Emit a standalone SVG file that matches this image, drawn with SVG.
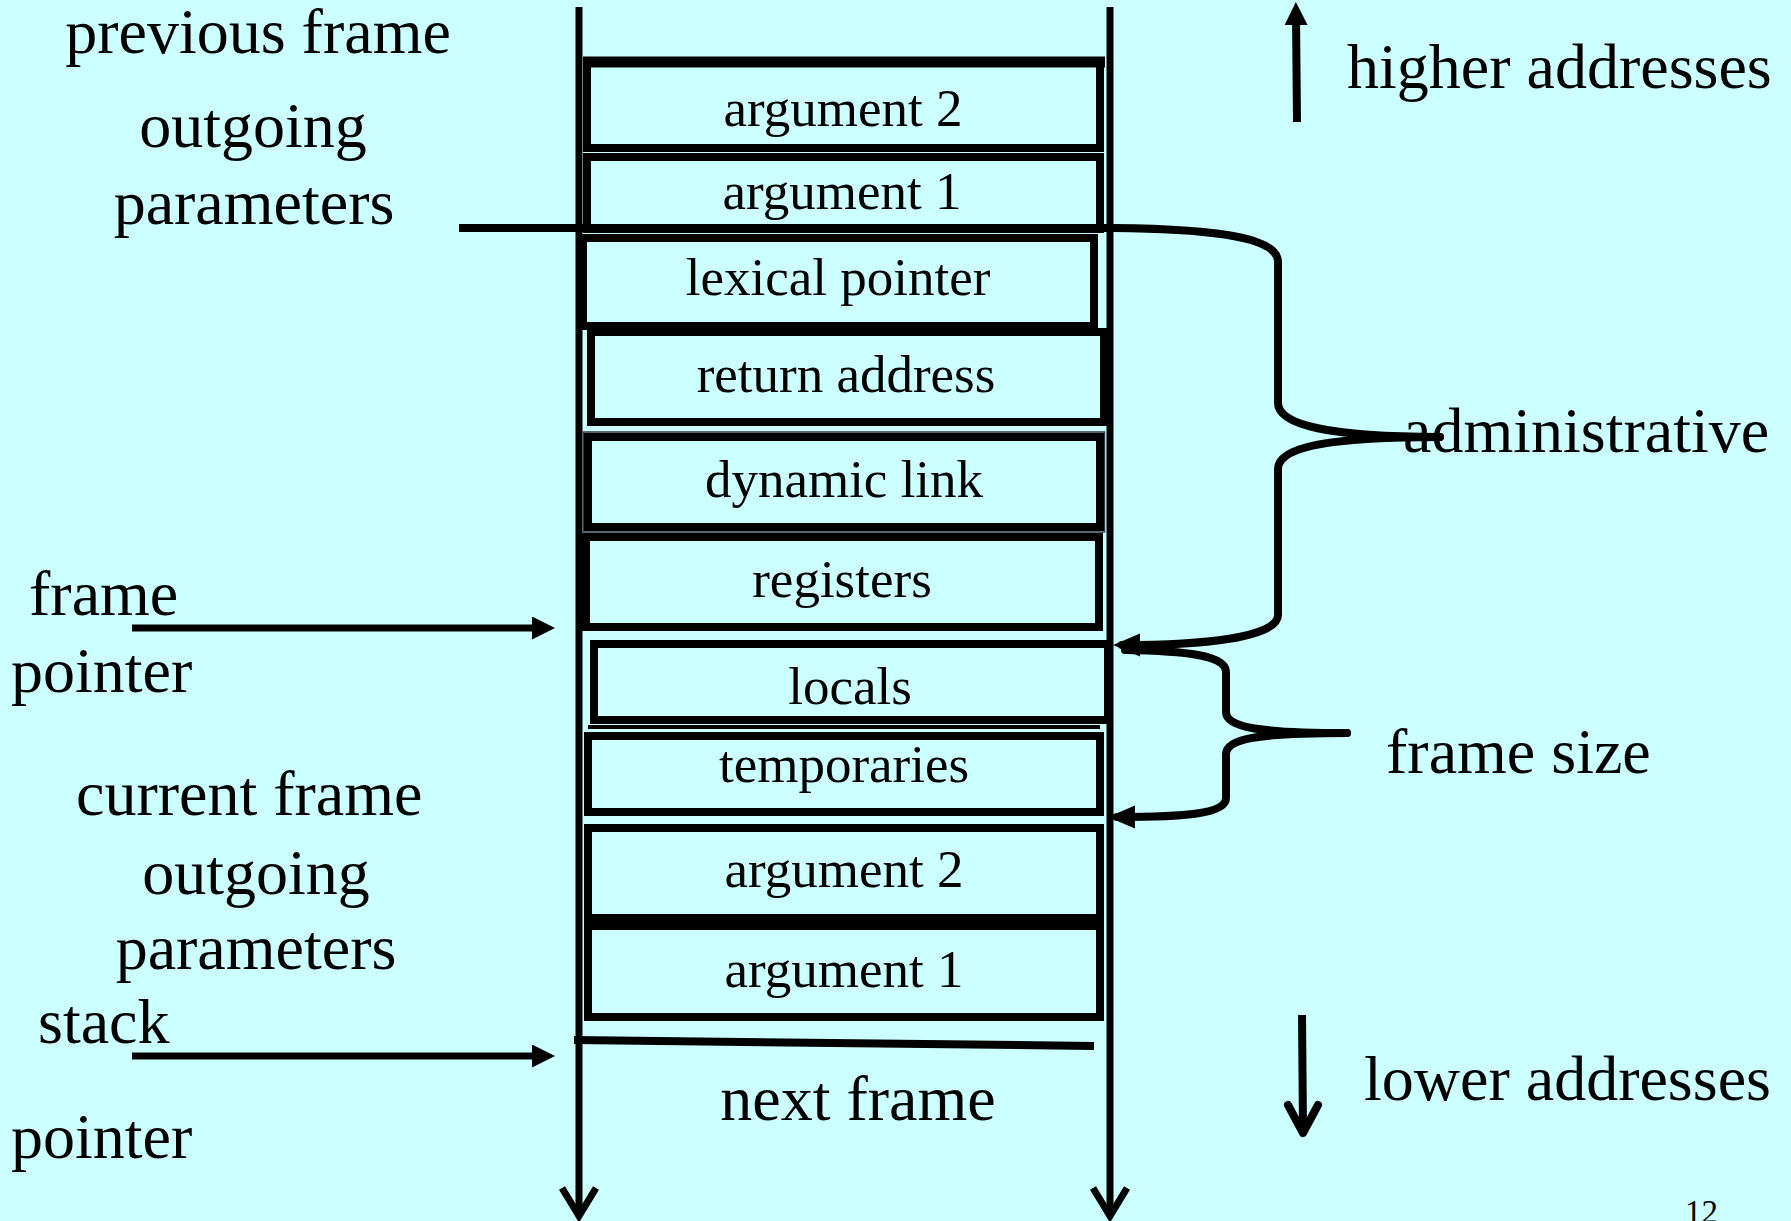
<svg xmlns="http://www.w3.org/2000/svg" width="1791" height="1221" viewBox="0 0 1791 1221">
<style>
  .big { font-family: "Liberation Serif", "Times New Roman", serif; font-size: 64px; fill: #000; }
  .lbl { font-family: "Liberation Serif", "Times New Roman", serif; font-size: 53px; fill: #000; text-anchor: middle; }
  .mid { text-anchor: middle; }
  .box { fill: none; stroke: #000; stroke-width: 8; }
  .ln { fill: none; stroke: #000; stroke-width: 7; }
  .brace { fill: none; stroke: #000; stroke-width: 8; stroke-linecap: round; stroke-linejoin: round; }
</style>
<defs>
  <marker id="ptr" markerUnits="userSpaceOnUse" markerWidth="24" markerHeight="24" refX="8" refY="11.5" orient="auto">
    <path d="M0,0 L23,11.5 L0,23 Z" fill="#000"/>
  </marker>
  <marker id="barrow" markerUnits="userSpaceOnUse" markerWidth="28" markerHeight="24" refX="18" refY="11.5" orient="auto">
    <path d="M0,0 L27,11.5 L0,23 Z" fill="#000"/>
  </marker>
</defs>
<rect x="0" y="0" width="1791" height="1221" fill="#CCFFFF"/>

<g id="stack-walls">
  <line class="ln" x1="579" y1="7" x2="579" y2="1214"/>
  <line class="ln" x1="1110" y1="7" x2="1110" y2="1214"/>
  <polyline class="ln" points="562,1188 579,1216 596,1188" stroke-linejoin="miter"/>
  <polyline class="ln" points="1093,1188 1110,1216 1127,1188" stroke-linejoin="miter"/>
</g>

<g id="box-arg2-prev">
  <rect class="box" x="587" y="63" width="513" height="85"/>
  <line x1="583" y1="62" x2="1105" y2="62" stroke="#000" stroke-width="11"/>
  <text class="lbl" x="843" y="126">argument 2</text>
</g>
<g id="box-arg1-prev">
  <rect class="box" x="587" y="157" width="513" height="72"/>
  <text class="lbl" x="842" y="209">argument 1</text>
</g>
<g id="box-lexical">
  <rect class="box" x="583" y="238" width="511" height="88"/>
  <text class="lbl" x="838" y="295">lexical pointer</text>
</g>
<g id="box-return">
  <rect class="box" x="591" y="332" width="513" height="90"/>
  <text class="lbl" x="846" y="392">return address</text>
</g>
<g id="box-dynamic">
  <rect x="583.5" y="432" width="521" height="100" fill="none" stroke="#334" stroke-width="1.5"/>
  <rect class="box" x="588" y="437" width="512" height="90"/>
  <text class="lbl" x="844" y="497">dynamic link</text>
</g>
<g id="box-registers">
  <rect class="box" x="586" y="537" width="513" height="90"/>
  <text class="lbl" x="842" y="597">registers</text>
</g>
<g id="box-locals">
  <rect class="box" x="594" y="644" width="514" height="76"/>
  <line x1="588" y1="727" x2="1100" y2="727" stroke="#000" stroke-width="4"/>
  <text class="lbl" x="850" y="704">locals</text>
</g>
<g id="box-temporaries">
  <rect class="box" x="588" y="736" width="512" height="76"/>
  <text class="lbl" x="844" y="782">temporaries</text>
</g>
<g id="box-arg2-cur">
  <rect class="box" x="588" y="828" width="512" height="90"/>
  <text class="lbl" x="844" y="887">argument 2</text>
</g>
<g id="box-arg1-cur">
  <rect class="box" x="588" y="926" width="512" height="91"/>
  <text class="lbl" x="844" y="987">argument 1</text>
</g>
<g id="next-frame">
  <text class="big mid" x="858" y="1120">next frame</text>
</g>

<g id="labels-left">
  <text class="big mid" x="258" y="53">previous frame</text>
  <text class="big mid" x="253" y="147">outgoing</text>
  <text class="big mid" x="254" y="224">parameters</text>
  <text class="big" x="29" y="615">frame</text>
  <text class="big" x="11" y="692">pointer</text>
  <text class="big" x="76" y="815">current frame</text>
  <text class="big mid" x="256" y="894">outgoing</text>
  <text class="big mid" x="256" y="969">parameters</text>
  <text class="big" x="38" y="1043">stack</text>
  <text class="big" x="11" y="1158">pointer</text>
</g>

<g id="labels-right">
  <text class="big" x="1347" y="88">higher addresses</text>
  <text class="big" x="1403" y="452">administrative</text>
  <text class="big" x="1386" y="773">frame size</text>
  <text class="big" x="1364" y="1100">lower addresses</text>
  <text x="1685" y="1223" font-family="Liberation Serif, serif" font-size="33">12</text>
</g>

<g id="connectors">
  <line x1="459" y1="228" x2="1116" y2="228" stroke="#000" stroke-width="8"/>
  <line x1="574" y1="1040" x2="1094" y2="1046" stroke="#000" stroke-width="8"/>
  <line class="ln" x1="132" y1="628" x2="540" y2="628" marker-end="url(#ptr)"/>
  <line class="ln" x1="132" y1="1056" x2="540" y2="1056" marker-end="url(#ptr)"/>
  <line x1="1297" y1="122" x2="1296" y2="17" stroke="#000" stroke-width="8" marker-end="url(#ptr)"/>
  <line x1="1302" y1="1015" x2="1303" y2="1130" stroke="#000" stroke-width="8"/>
  <polyline points="1288,1105 1303,1133 1318,1105" fill="none" stroke="#000" stroke-width="8" stroke-linecap="round" stroke-linejoin="round"/>
  <path class="brace" d="M1113,228 C1230,229 1278,240 1278,262 L1278,403 C1278,425 1330,437 1440,437"/>
  <path class="brace" d="M1440,437 C1330,437 1278,447 1278,469 L1278,615 C1278,638 1200,645 1122,645" marker-end="url(#barrow)"/>
  <path class="brace" d="M1347,733 C1262,733 1226,728 1226,712 L1226,672 C1226,655 1185,651 1125,650"/>
  <path class="brace" d="M1347,733 C1262,733 1226,738 1226,754 L1226,798 C1226,814 1185,817 1117,817" marker-end="url(#barrow)"/>
</g>
</svg>
